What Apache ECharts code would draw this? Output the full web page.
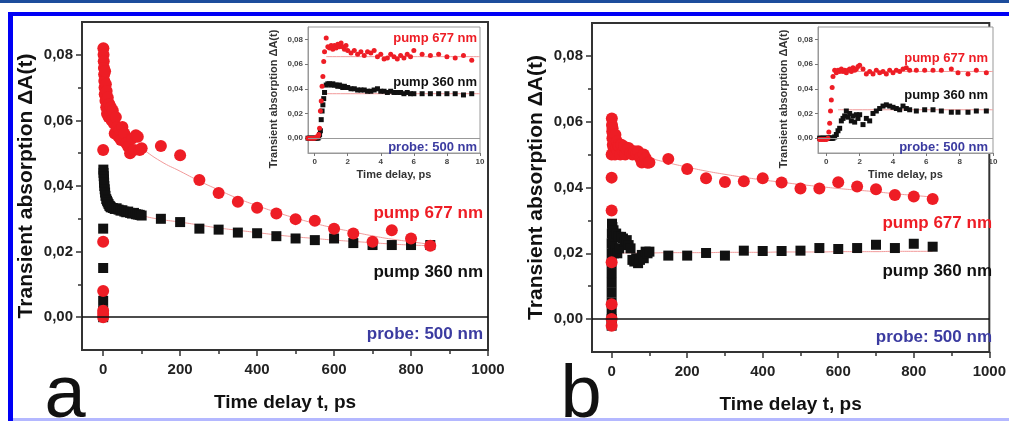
<!DOCTYPE html>
<html>
<head>
<meta charset="utf-8">
<title>Transient absorption</title>
<script src="https://cdn.jsdelivr.net/npm/echarts@6/dist/echarts.min.js"></script>
<style>
  html, body { margin: 0; padding: 0; background: #fff; }
  #main { width: 1009px; height: 421px; }
</style>
</head>
<body>
<div id="main"></div>
<script>
// ---- panel a, main plot (ps) ----
var redTimeA = [0,0,0,0,0,0,0.5,1,1.5,2,2.5,3,3.5,4,5,6,7,8,9,10,12,14,16,18,20,22,25,28,30,33,36,40,43,46,50,55,60,65,70,75,80,85,90,95,100,150,200,250,300,350,400,450,500,550,600,650,700,750,800,850];
var redA = [0,0.001,0.002,0.008,0.023,0.051,0.082,0.080,0.078,0.076,0.074,0.072,0.070,0.068,0.075,0.066,0.071,0.064,0.069,0.062,0.067,0.061,0.065,0.063,0.064,0.060,0.063,0.059,0.056,0.061,0.058,0.055,0.057,0.054,0.058,0.056,0.053,0.052,0.050,0.0545,0.051,0.0555,0.055,0.051,0.0515,0.0522,0.0494,0.0418,0.0379,0.0352,0.0334,0.0316,0.0299,0.0294,0.027,0.0255,0.023,0.0265,0.024,0.0218];
var blackTimeA = [0,0,0,0,0,0.5,1,1.5,2,2.5,3,4,5,6,8,10,12,14,16,18,20,25,30,35,40,45,50,55,60,65,70,75,80,85,90,95,100,150,200,250,300,350,400,450,500,550,600,650,700,750,800,850];
var blackA = [0,0.002,0.005,0.015,0.027,0.045,0.044,0.043,0.042,0.041,0.040,0.039,0.038,0.037,0.036,0.0355,0.035,0.0345,0.034,0.0338,0.0335,0.0333,0.033,0.0332,0.0328,0.0325,0.0326,0.0322,0.032,0.0322,0.0318,0.0316,0.0318,0.0314,0.0313,0.0312,0.031,0.030,0.029,0.027,0.0267,0.0258,0.0256,0.0247,0.024,0.0235,0.024,0.0226,0.022,0.022,0.022,0.022];
var fitTime = [10,30,60,100,150,200,250,300,350,400,450,500,550,600,650,700,750,800,850];
var fitRedA = [0.064,0.059,0.055,0.0515,0.0475,0.0445,0.0415,0.0388,0.0362,0.034,0.032,0.0302,0.0286,0.0272,0.026,0.0248,0.0238,0.023,0.0222];
var fitBlackA = [0.0345,0.0335,0.0325,0.031,0.0298,0.029,0.0281,0.0272,0.0265,0.0258,0.0251,0.0245,0.024,0.0235,0.0231,0.0227,0.0223,0.022,0.0218];

// ---- panel b, main plot (ps) ----
var redTimeB = [0,0,0,0,0,0,0,0.5,1,1.5,2,2.5,3,4,5,6,7,8,9,10,12,14,16,18,20,23,26,30,33,36,40,45,50,55,60,65,70,75,80,85,90,95,100,150,200,250,300,350,400,450,500,550,600,650,700,750,800,850];
var redB = [-0.002,0,0.0045,0.0173,0.033,0.043,0.050,0.061,0.059,0.057,0.055,0.058,0.053,0.056,0.052,0.055,0.051,0.054,0.050,0.056,0.052,0.054,0.051,0.053,0.0525,0.050,0.053,0.051,0.0525,0.050,0.0516,0.052,0.0505,0.050,0.051,0.0505,0.051,0.049,0.0476,0.050,0.049,0.0475,0.0476,0.0487,0.0456,0.0428,0.0417,0.0419,0.0428,0.0415,0.0397,0.0397,0.0416,0.0403,0.0395,0.0377,0.0373,0.0365];
var blackTimeB = [0,0,0,0,0,0,0,0,0,0,0.5,1,2,3,4,5,6,8,10,12,15,18,20,25,30,35,40,45,50,55,60,65,70,75,80,85,90,95,100,150,200,250,300,350,400,450,500,550,600,650,700,750,800,850];
var blackB = [-0.002,0,0.002,0.005,0.008,0.011,0.014,0.017,0.020,0.023,0.026,0.029,0.028,0.024,0.021,0.027,0.020,0.025,0.021,0.026,0.020,0.025,0.0215,0.025,0.0245,0.0235,0.024,0.0225,0.0215,0.018,0.0175,0.0185,0.017,0.018,0.0195,0.0185,0.0205,0.020,0.0205,0.0193,0.0193,0.0201,0.0193,0.0208,0.0207,0.0207,0.0208,0.0216,0.0213,0.0216,0.0226,0.0216,0.0229,0.022];
var fitRedB = [0.055,0.0525,0.0505,0.049,0.0475,0.0462,0.045,0.044,0.0431,0.0423,0.0416,0.0409,0.0403,0.0397,0.0392,0.0387,0.0381,0.0376,0.0371];
var fitBlackB = [0.0202,0.0201,0.0201,0.0201,0.0202,0.0202,0.0202,0.0203,0.0203,0.0203,0.0204,0.0204,0.0204,0.0205,0.0205,0.0205,0.0206,0.0206,0.0206];

// ---- insets (first picoseconds) ----
var insetTimeA = [-0.4,-0.3,-0.2,-0.1,0,0.1,0.2,0.25,0.3,0.35,0.4,0.45,0.5,0.55,0.6,0.7,0.8,0.9,1.0,1.1,1.2,1.3,1.4,1.5,1.6,1.7,1.8,1.9,2.0,2.2,2.4,2.6,2.8,3.0,3.2,3.4,3.6,3.8,4.0,4.2,4.4,4.6,4.8,5.0,5.2,5.4,5.6,5.8,6.0,6.5,7.0,7.5,8.0,8.5,9.0,9.5];
var insetRedA = [0,0,0,0,0,0.001,0.001,0.003,0.008,0.022,0.030,0.042,0.050,0.062,0.070,0.081,0.074,0.073,0.075,0.072,0.075,0.073,0.076,0.074,0.077,0.074,0.072,0.075,0.071,0.069,0.071,0.068,0.070,0.067,0.070,0.069,0.071,0.066,0.068,0.064,0.065,0.068,0.066,0.064,0.067,0.065,0.068,0.066,0.071,0.068,0.067,0.068,0.066,0.065,0.067,0.063];
var insetBlackA = [0,0,0,0,0,0,0,0.001,0.003,0.006,0.015,0.022,0.027,0.032,0.037,0.043,0.044,0.044,0.043,0.044,0.043,0.043,0.042,0.043,0.042,0.041,0.042,0.041,0.041,0.040,0.040,0.039,0.039,0.039,0.038,0.038,0.039,0.040,0.038,0.038,0.037,0.038,0.037,0.037,0.037,0.036,0.037,0.036,0.036,0.036,0.036,0.036,0.036,0.036,0.035,0.036];
var insetTimeB = [-0.4,-0.3,-0.2,-0.1,0,0.1,0.15,0.2,0.25,0.3,0.35,0.4,0.5,0.6,0.7,0.8,0.9,1.0,1.1,1.2,1.3,1.4,1.5,1.6,1.7,1.8,1.9,2.0,2.2,2.4,2.6,2.8,3.0,3.2,3.4,3.6,3.8,4.0,4.2,4.4,4.6,4.8,5.0,5.4,5.9,6.4,6.9,7.5,7.9,8.5,9.0,9.6];
var insetRedB = [-0.001,-0.001,-0.001,-0.001,-0.001,0,0.005,0.012,0.022,0.031,0.041,0.050,0.055,0.053,0.055,0.054,0.056,0.054,0.055,0.053,0.055,0.056,0.054,0.057,0.055,0.056,0.058,0.059,0.056,0.052,0.054,0.052,0.055,0.053,0.054,0.052,0.055,0.053,0.055,0.054,0.056,0.057,0.055,0.055,0.055,0.055,0.055,0.056,0.053,0.052,0.055,0.053];
var insetBlackB = [0,0,0,0,0,0,0,0,0,0,0,0,0.001,0.003,0.006,0.008,0.014,0.016,0.018,0.022,0.017,0.020,0.014,0.018,0.013,0.019,0.016,0.019,0.011,0.016,0.014,0.020,0.022,0.024,0.026,0.027,0.026,0.025,0.024,0.023,0.026,0.024,0.023,0.022,0.023,0.023,0.022,0.021,0.021,0.021,0.022,0.022];
var insetFitTime = [0.7, 10];
var insetFitRedA = [0.066, 0.066];
var insetFitBlackA = [0.036, 0.036];
var insetFitRedB = [0.054, 0.054];
var insetFitBlackB = [0.023, 0.023];

// tick labels
var mainXTicks = [0, 200, 400, 600, 800, 1000];
var mainXMinor = [100, 300, 500, 700, 900];
var mainYTicks = [0, 0.02, 0.04, 0.06, 0.08];
var mainYMinor = [0.01, 0.03, 0.05, 0.07];
var insetXTicks = [0, 2, 4, 6, 8, 10];
var insetYTicks = [0, 0.02, 0.04, 0.06, 0.08];

var RED = '#ee1d25', BLACK = '#111', BLUE = '#3b3ba0', FIT = '#f29a9a';
var FONT = 'Liberation Sans';

function zip(xs, ys) {
  return xs.map(function (x, i) { return [x, ys[i]]; });
}
function comma(v) { return v.toFixed(2).replace('.', ','); }
function plain(v) { return String(v); }

function mainX(grid, xmin) {
  return {
    type: 'value', gridIndex: grid, min: xmin, max: 1000, position: 'bottom',
    axisLine: { onZero: false, lineStyle: { color: '#333', width: 2 } },
    axisTick: { customValues: mainXTicks, length: 6, lineStyle: { color: '#333', width: 1.5 } },
    axisLabel: { customValues: mainXTicks, formatter: plain, margin: 12, color: '#222', fontWeight: 'bold', fontSize: 15, fontFamily: FONT },
    splitLine: { show: false },
    name: 'Time delay t, ps', nameLocation: 'middle', nameGap: 43,
    nameTextStyle: { color: '#111', fontWeight: 'bold', fontSize: 19, fontFamily: FONT }
  };
}
function minorX(grid, xmin) {
  return {
    type: 'value', gridIndex: grid, min: xmin, max: 1000, position: 'bottom',
    axisLine: { show: false, onZero: false },
    axisTick: { customValues: mainXMinor, length: 4, lineStyle: { color: '#333', width: 1.5 } },
    axisLabel: { show: false }, splitLine: { show: false }
  };
}
function mainY(grid) {
  return {
    type: 'value', gridIndex: grid, min: -0.01, max: 0.09, position: 'left',
    axisLine: { onZero: false, lineStyle: { color: '#333', width: 2 } },
    axisTick: { customValues: mainYTicks, length: 6, lineStyle: { color: '#333', width: 1.5 } },
    axisLabel: { customValues: mainYTicks, formatter: comma, margin: 9, color: '#222', fontWeight: 'bold', fontSize: 15, fontFamily: FONT },
    splitLine: { show: false },
    name: 'Transient absorption \u0394A(t)', nameLocation: 'middle', nameGap: 45,
    nameTextStyle: { color: '#111', fontWeight: 'bold', fontSize: 21, fontFamily: FONT }
  };
}
function minorY(grid) {
  return {
    type: 'value', gridIndex: grid, min: -0.01, max: 0.09, position: 'left',
    axisLine: { show: false, onZero: false },
    axisTick: { customValues: mainYMinor, length: 4, lineStyle: { color: '#333', width: 1.5 } },
    axisLabel: { show: false }, splitLine: { show: false }
  };
}
function insetX(grid, xmin) {
  return {
    type: 'value', gridIndex: grid, min: xmin, max: 10, position: 'bottom',
    axisLine: { onZero: false, lineStyle: { color: '#999', width: 1 } },
    axisTick: { customValues: insetXTicks, length: 3, lineStyle: { color: '#777' } },
    axisLabel: { customValues: insetXTicks, margin: 5, color: '#444', fontWeight: 'bold', fontSize: 8, fontFamily: FONT },
    splitLine: { show: false },
    name: 'Time delay, ps', nameLocation: 'middle', nameGap: 16,
    nameTextStyle: { color: '#333', fontWeight: 'bold', fontSize: 11, fontFamily: FONT }
  };
}
function insetY(grid) {
  return {
    type: 'value', gridIndex: grid, min: -0.012, max: 0.09, position: 'left',
    axisLine: { onZero: false, lineStyle: { color: '#999', width: 1 } },
    axisTick: { customValues: insetYTicks, length: 3, lineStyle: { color: '#777' } },
    axisLabel: { customValues: insetYTicks, formatter: comma, margin: 5, color: '#444', fontWeight: 'bold', fontSize: 8, fontFamily: FONT },
    splitLine: { show: false },
    name: 'Transient absorption \u0394A(t)', nameLocation: 'middle', nameGap: 29,
    nameTextStyle: { color: '#333', fontWeight: 'bold', fontSize: 11, fontFamily: FONT, padding: [0, 18, 0, 0] }
  };
}

function fitLine(ax, xs, ys, color) {
  return {
    type: 'line', xAxisIndex: ax, yAxisIndex: ax, data: zip(xs, ys), smooth: true,
    symbol: 'none', lineStyle: { color: color, width: 1 }, z: 2, silent: true
  };
}
function dots(ax, xs, ys, shape, size, color, zeroColor) {
  var s = {
    type: 'scatter', xAxisIndex: ax, yAxisIndex: ax, data: zip(xs, ys),
    symbol: shape, symbolSize: size, itemStyle: { color: color, opacity: 1 },
    z: shape === 'circle' ? 4 : 3
  };
  if (zeroColor) {
    s.markLine = {
      silent: true, symbol: ['none', 'none'], label: { show: false },
      lineStyle: { color: zeroColor, width: zeroColor === '#111' ? 1.5 : 1, type: 'solid' },
      data: [{ yAxis: 0 }]
    };
  }
  return s;
}
function label(text, x, y, color, size, align) {
  return {
    type: 'text', z: 100, x: x, y: y,
    style: { text: text, fill: color, font: 'bold ' + size + 'px "' + FONT + '"', textAlign: align || 'right', textVerticalAlign: 'middle' }
  };
}

var chart = echarts.init(document.getElementById('main'));
var option = {
  animation: false,
  backgroundColor: '#fff',
  grid: [
    { left: 82, top: 22, width: 406, height: 328, show: true, borderColor: '#333', borderWidth: 2, backgroundColor: 'transparent' },
    { left: 308, top: 27, width: 172, height: 126, show: true, borderColor: '#999', borderWidth: 1, backgroundColor: '#fff' },
    { left: 592, top: 23, width: 406, height: 329, show: true, borderColor: '#333', borderWidth: 2, backgroundColor: 'transparent' },
    { left: 818, top: 27, width: 175, height: 126, show: true, borderColor: '#999', borderWidth: 1, backgroundColor: '#fff' }
  ],
  xAxis: [mainX(0, -55), minorX(0, -55), insetX(1, -0.4), mainX(2, -52), minorX(2, -52), insetX(3, -0.5)],
  yAxis: [mainY(0), minorY(0), insetY(1), mainY(2), minorY(2), insetY(3)],
  series: [
    // panel a
    fitLine(0, fitTime, fitRedA, FIT),
    fitLine(0, fitTime, fitBlackA, FIT),
    dots(0, blackTimeA, blackA, 'rect', 10, BLACK, '#111'),
    dots(0, redTimeA, redA, 'circle', 12, RED),
    // inset a
    fitLine(2, insetFitTime, insetFitRedA, FIT),
    fitLine(2, insetFitTime, insetFitBlackA, FIT),
    dots(2, insetTimeA, insetBlackA, 'rect', 5, BLACK, '#999'),
    dots(2, insetTimeA, insetRedA, 'circle', 5, RED),
    // panel b
    fitLine(3, fitTime, fitRedB, FIT),
    fitLine(3, fitTime, fitBlackB, FIT),
    dots(3, blackTimeB, blackB, 'rect', 10, BLACK, '#111'),
    dots(3, redTimeB, redB, 'circle', 12, RED),
    // inset b
    fitLine(5, insetFitTime, insetFitRedB, FIT),
    fitLine(5, insetFitTime, insetFitBlackB, FIT),
    dots(5, insetTimeB, insetBlackB, 'rect', 5, BLACK, '#999'),
    dots(5, insetTimeB, insetRedB, 'circle', 5, RED)
  ],
  graphic: [
    // page border of the scanned figure
    { type: 'rect', z: 0, shape: { x: 0, y: 0, width: 1009, height: 3 }, style: { fill: '#1d4d9c' } },
    { type: 'rect', z: 0, shape: { x: 8, y: 12, width: 1001, height: 4 }, style: { fill: '#0000f5' } },
    { type: 'rect', z: 0, shape: { x: 8, y: 12, width: 5, height: 409 }, style: { fill: '#0000f5' } },
    { type: 'rect', z: 0, shape: { x: 13, y: 418, width: 996, height: 3 }, style: { fill: '#b4b8ff' } },
    // panel a labels
    label('pump 677 nm', 483, 213, RED, 17),
    label('pump 360 nm', 483, 272, BLACK, 17),
    label('probe: 500 nm', 483, 334, BLUE, 17),
    label('pump 677 nm', 477, 38, RED, 13),
    label('pump 360 nm', 477, 82, BLACK, 13),
    label('probe: 500 nm', 477, 147, BLUE, 13),
    // panel b labels
    label('pump 677 nm', 992, 223, RED, 17),
    label('pump 360 nm', 992, 271, BLACK, 17),
    label('probe: 500 nm', 992, 337, BLUE, 17),
    label('pump 677 nm', 988, 58, RED, 13),
    label('pump 360 nm', 988, 95, BLACK, 13),
    label('probe: 500 nm', 988, 147, BLUE, 13),
    // panel letters
    { type: 'text', z: 100, x: 65, y: 434, style: { text: 'a', fill: '#111', font: '74px "' + FONT + '"', textAlign: 'center', textVerticalAlign: 'bottom' } },
    { type: 'text', z: 100, x: 581, y: 434, style: { text: 'b', fill: '#111', font: '74px "' + FONT + '"', textAlign: 'center', textVerticalAlign: 'bottom' } }
  ]
};
chart.setOption(option);
</script>
</body>
</html>
